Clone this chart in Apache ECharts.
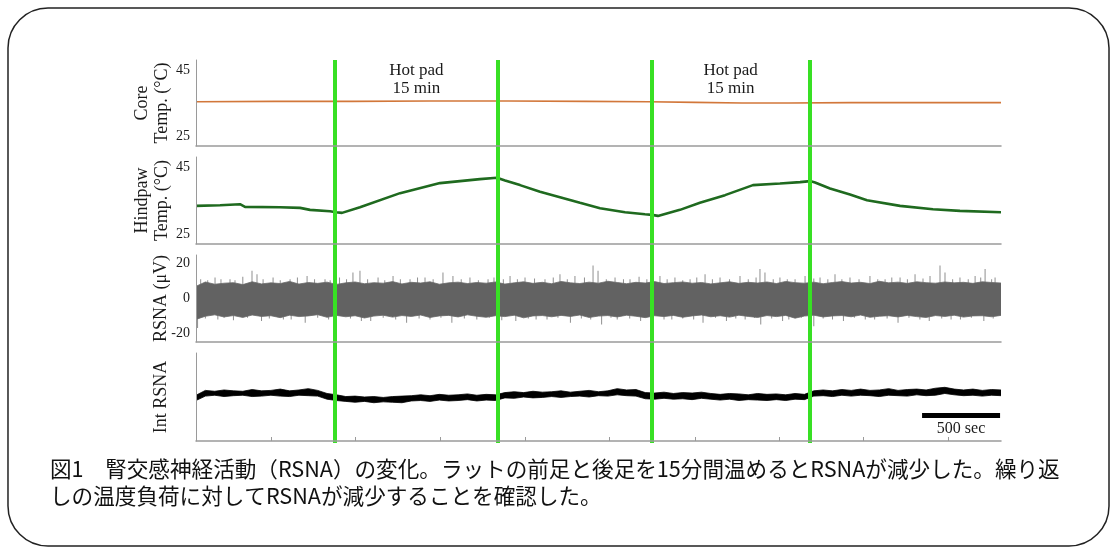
<!DOCTYPE html>
<html><head><meta charset="utf-8">
<script src="https://cdn.jsdelivr.net/npm/echarts@6/dist/echarts.min.js"></script>
<style>html,body{margin:0;padding:0;background:#fff}#c{width:1115px;height:548px}</style>
</head><body><div id="c"></div>
<script>
// ---- data (time in seconds) ----
const T_MAX = 5160;
const HEAT_ON = [890, 2920];
const HEAT_OFF = [1935, 3935];
const HEAT_LABEL = 'Hot pad\n15 min';
const SCALE_BAR = [4654, 5154];
const SCALE_LABEL = '500 sec';
const X_TICKS = [480, 1020, 1565, 2110, 2650, 3200, 3740, 4280, 4820];
const TEMP_TICKS = [25, 45];
const RSNA_TICKS = [-20, 0, 20];

const CORE_T = [0, 500, 1000, 1500, 2000, 2500, 2900, 3200, 3500, 3800, 4200, 4600, 5160];
const CORE_V = [35.4, 35.5, 35.5, 35.6, 35.6, 35.5, 35.4, 35.2, 35.0, 35.0, 35.1, 35.1, 35.1];

const HINDPAW_T = [0, 154, 282, 314, 538, 667, 731, 859, 897, 936, 1051, 1308, 1564, 1820, 1929, 1981, 2077, 2205, 2333, 2461, 2590, 2750, 2878, 2923, 2961, 3102, 3230, 3391, 3570, 3743, 3872, 3936, 3968, 4064, 4192, 4301, 4513, 4724, 4897, 5160];
const HINDPAW_V = [33.4, 33.6, 33.9, 33.1, 33.0, 32.8, 32.2, 31.8, 31.5, 31.3, 33.0, 37.2, 40.2, 41.4, 41.8, 41.0, 39.6, 37.6, 36.0, 34.3, 32.7, 31.5, 30.9, 30.7, 30.4, 32.2, 34.3, 36.6, 39.6, 40.1, 40.5, 40.8, 40.4, 38.6, 36.8, 35.1, 33.4, 32.4, 31.9, 31.5];

// RSNA envelope sampled every RSNA_STEP seconds (upper / lower edge of the dense band, µV)
const RSNA_STEP = 60;
const RSNA_HI = [7.0, 9.5, 8.2, 8.8, 9.1, 8.0, 9.6, 8.4, 9.0, 8.6, 9.8, 8.3, 9.2, 8.7, 9.4, 8.1, 9.0, 9.5, 8.5, 9.1,
 8.8, 9.7, 8.4, 9.3, 8.9, 9.6, 8.2, 9.0, 9.4, 8.6, 9.2, 8.8, 9.5, 8.3, 9.0, 9.6, 8.7, 9.3, 8.5, 9.8,
 9.0, 8.6, 9.4, 8.8, 9.9, 9.2, 8.5, 9.3, 8.9, 9.7, 8.6, 9.1, 9.5, 8.8, 9.2, 8.4, 9.0, 9.6, 8.7, 9.3,
 8.9, 9.5, 8.6, 9.8, 9.1, 8.8, 9.4, 8.5, 9.2, 9.7, 8.9, 9.3, 8.6, 9.9, 9.0, 9.4, 8.7, 9.6, 9.1, 8.8,
 9.5, 9.0, 9.3, 8.7, 9.6, 9.2, 8.9];
const RSNA_LO = [-12.0, -10.2, -9.4, -10.6, -9.8, -10.9, -9.5, -10.3, -9.9, -11.0, -9.6, -10.4, -10.0, -9.3, -10.8, -9.7, -10.5, -9.9, -11.2, -10.1,
 -9.6, -10.7, -9.8, -10.3, -9.5, -10.9, -10.0, -9.7, -10.6, -9.4, -10.2, -10.8, -9.9, -10.4, -9.6, -11.1, -10.0, -9.8, -10.5, -9.7,
 -10.3, -9.5, -10.9, -10.1, -9.8, -10.6, -9.6, -10.2, -11.0, -9.9, -10.4, -9.7, -10.8, -10.0, -9.5, -10.5, -9.9, -10.7, -9.6, -10.3,
 -10.9, -9.8, -10.4, -9.7, -11.3, -10.1, -9.6, -10.6, -10.0, -9.8, -10.5, -9.5, -10.8, -10.2, -9.9, -10.6, -9.7, -10.4, -10.9, -9.8,
 -10.3, -9.6, -10.7, -10.0, -9.9, -10.5, -9.7];
// single spikes sticking out of the band
const SPIKE_UP_T = [30, 75, 122, 160, 218, 250, 300, 359, 391, 430,
 494, 540, 603, 650, 712, 760, 827, 860, 920, 965,
 1006, 1051, 1100, 1167, 1210, 1263, 1310, 1372, 1420, 1468,
 1520, 1583, 1647, 1700, 1756, 1810, 1872, 1910, 1970, 2013,
 2060, 2109, 2170, 2237, 2290, 2333, 2380, 2429, 2490, 2545,
 2577, 2630, 2686, 2740, 2782, 2840, 2890, 2974, 3020, 3070,
 3120, 3167, 3210, 3263, 3310, 3359, 3420, 3487, 3540, 3590,
 3615, 3647, 3700, 3743, 3790, 3840, 3904, 3960, 4000, 4050,
 4096, 4140, 4192, 4250, 4320, 4370, 4417, 4460, 4513, 4560,
 4609, 4660, 4705, 4769, 4801, 4850, 4897, 4950, 4994, 5030,
 5058, 5100, 5122];
const SPIKE_UP_V = [11, 10.5, 12, 11, 11, 10.5, 12.5, 16, 14, 11,
 12, 10.5, 11, 12, 13, 11, 11, 10.5, 12, 11,
 15, 16, 11, 12, 10.5, 13, 11, 11, 12, 12,
 11, 15, 13, 11, 12, 10.5, 11, 12, 11, 13,
 11, 12, 11.5, 11, 12, 14, 11, 13, 12, 19,
 16, 11, 12, 11, 11, 12.5, 11, 13, 11, 12,
 10.5, 11, 12, 14, 11, 12, 11, 13, 11, 12,
 17, 15, 11, 12, 11, 11, 13, 11.5, 12, 11,
 14, 11, 12, 11, 13, 11, 11, 12, 12, 11,
 14, 11.5, 13, 19, 15, 11, 12, 11, 13, 12,
 17, 11, 12];
const SPIKE_DN_T = [10, 60, 140, 180, 240, 330, 420, 470, 560, 610,
 700, 780, 850, 900, 990, 1060, 1120, 1200, 1280, 1350,
 1430, 1500, 1570, 1640, 1720, 1800, 1880, 1960, 2050, 2130,
 2180, 2250, 2320, 2400, 2470, 2530, 2600, 2660, 2700, 2780,
 2850, 2930, 3000, 3050, 3120, 3190, 3250, 3330, 3400, 3460,
 3520, 3580, 3620, 3690, 3760, 3800, 3880, 3940, 3960, 4020,
 4080, 4150, 4220, 4290, 4350, 4430, 4500, 4570, 4640, 4700,
 4780, 4840, 4900, 4970, 5050, 5110];
const SPIKE_DN_V = [-17, -11.5, -12, -11, -12.5, -11, -13, -11.5, -12, -12,
 -14, -11, -12, -12, -11.5, -13, -13, -11, -12, -14,
 -11.5, -12, -11, -14, -11.5, -12, -11, -12.5, -13, -11.5,
 -12, -12, -11, -14, -11.5, -12, -15, -11, -12, -11.5,
 -13, -11, -12, -12, -11.5, -12, -14, -11, -13, -11.5,
 -12, -11, -15, -11.5, -13, -12, -11, -19, -16, -11.5,
 -12, -13, -11, -12, -12, -11.5, -14, -11, -12, -13,
 -11.5, -12, -12, -11, -13, -11.5];

// Integrated RSNA (arbitrary units, 0-100 panel): upper / lower edge of the noisy trace every INT_STEP seconds
const INT_STEP = 60;
const INT_HI = [52, 57.5, 56.5, 58, 57, 56.5, 58.5, 57, 57.5, 59,
 57, 58, 59.5, 57.5, 54, 52.5, 50.5, 51, 50, 50.5,
 49.5, 50.5, 51, 51.5, 52.5, 51.5, 53, 52, 52.5, 53.5,
 52, 53, 52.5, 55, 56, 55, 56.5, 55.5, 56, 57,
 55.5, 56.5, 57.5, 56, 57, 59.5, 58, 58.5, 55, 54.5,
 55.5, 54, 55, 54.5, 55.5, 54, 53, 54, 53.5, 52.5,
 54, 53, 53.5, 52.5, 54, 53, 57, 58, 57, 58.5,
 57.5, 59, 57.5, 58, 59.5, 57.5, 58.5, 59, 58, 60,
 61, 59, 58, 59, 57.5, 58.5, 58];
const INT_LO = [46, 51, 52, 50.5, 51.5, 52, 50.5, 51, 52, 51,
 50.5, 52, 51.5, 51, 47.5, 46, 45, 44, 45, 43.5,
 44.5, 44, 43.5, 45.5, 46, 45, 46.5, 45.5, 46, 47,
 45.5, 46.5, 46, 49, 48.5, 50, 49, 49.5, 50.5, 49.5,
 50.5, 51, 50, 51.5, 51, 52.5, 51.5, 51, 48, 47.5,
 48.5, 47.5, 48, 47, 48.5, 47.5, 46.5, 47.5, 46, 47,
 46.5, 46, 47, 46, 47.5, 47, 51, 51.5, 50.5, 52,
 51, 52, 51.5, 50.5, 52, 51.5, 51, 52.5, 51.5, 52,
 54, 52.5, 51.5, 52, 51, 52, 51.5];

const CAPTION_1 = '図1　腎交感神経活動（RSNA）の変化。ラットの前足と後足を15分間温めるとRSNAが減少した。繰り返';
const CAPTION_2 = 'しの温度負荷に対してRSNAが減少することを確認した。';

// ---- chart ----
const zip = (t, v) => t.map((x, i) => [x, v[i]]);
const stepped = (v, step) => v.map((y, i) => [i * step, y]);
const SERIF = '"Liberation Serif","DejaVu Serif",serif';
const AX = '#9a9a9a';
const L = 196, R = 114;
const grids = [
  {left: L, right: R, top: 60, height: 86},
  {left: L, right: R, top: 157, height: 87},
  {left: L, right: R, top: 255, height: 87},
  {left: L, right: R, top: 353, height: 88},
  {left: L, right: R, top: 60, height: 383}
];
function xAx(i, ticks) {
  return {gridIndex: i, type: 'value', min: 0, max: T_MAX, show: i < 4, z: 5,
    axisLine: {show: true, onZero: false, lineStyle: {color: AX, width: 1.5}},
    axisLabel: {show: false}, splitLine: {show: false},
    axisTick: ticks ? {show: true, inside: true, length: 4, customValues: X_TICKS, lineStyle: {color: AX}} : {show: false}};
}
function yAx(i, min, max, name, labels, gap) {
  return {gridIndex: i, type: 'value', min: min, max: max, show: i < 4, z: 5,
    name: name, nameLocation: 'middle', nameGap: gap, nameRotate: 90, nameMoveOverlap: false,
    nameTextStyle: {fontFamily: SERIF, fontSize: 18, lineHeight: 20, color: '#1a1a1a'},
    axisLine: {show: true, lineStyle: {color: AX, width: 1}},
    axisTick: {show: false}, splitLine: {show: false},
    axisLabel: labels ? {show: true, customValues: labels, fontFamily: SERIF, fontSize: 14, color: '#1a1a1a', margin: 6} : {show: false}};
}
const option = {
  animation: false,
  backgroundColor: '#fff',
  grid: grids,
  xAxis: [xAx(0), xAx(1), xAx(2), xAx(3, true), xAx(4)],
  yAxis: [
    yAx(0, 22, 48, 'Core\nTemp. (°C)', TEMP_TICKS, 24),
    yAx(1, 22, 48, 'Hindpaw\nTemp. (°C)', TEMP_TICKS, 24),
    yAx(2, -25, 25, 'RSNA (μV)', RSNA_TICKS, 25),
    yAx(3, 0, 100, 'Int RSNA', null, 25),
    yAx(4, 0, 1, '', null, 0)
  ],
  series: [
    {type: 'line', xAxisIndex: 0, yAxisIndex: 0, data: zip(CORE_T, CORE_V), symbol: 'none',
     lineStyle: {color: '#d2773a', width: 1.6}},
    {type: 'line', xAxisIndex: 1, yAxisIndex: 1, data: zip(HINDPAW_T, HINDPAW_V), symbol: 'none',
     lineStyle: {color: '#1f6a1f', width: 2.6}},
    {type: 'bar', xAxisIndex: 2, yAxisIndex: 2, data: zip(SPIKE_UP_T, SPIKE_UP_V), barWidth: 1,
     itemStyle: {color: '#8f8f8f'}, barGap: '-100%'},
    {type: 'bar', xAxisIndex: 2, yAxisIndex: 2, data: zip(SPIKE_DN_T, SPIKE_DN_V), barWidth: 1,
     itemStyle: {color: '#8f8f8f'}, barGap: '-100%'},
    {type: 'line', xAxisIndex: 2, yAxisIndex: 2, data: stepped(RSNA_HI, RSNA_STEP), symbol: 'none',
     lineStyle: {color: '#6a6a6a', width: 0.8}, areaStyle: {color: '#626262', opacity: 1, origin: -1.5}},
    {type: 'line', xAxisIndex: 2, yAxisIndex: 2, data: stepped(RSNA_LO, RSNA_STEP), symbol: 'none',
     lineStyle: {color: '#6a6a6a', width: 0.8}, areaStyle: {color: '#626262', opacity: 1, origin: 1.5}},
    // upper edge filled down to 38, then the lower edge masks everything beneath it down to 35
    {type: 'line', xAxisIndex: 3, yAxisIndex: 3, data: stepped(INT_HI, INT_STEP), symbol: 'none',
     lineStyle: {color: '#000', width: 0.8}, areaStyle: {color: '#000', opacity: 1, origin: 38}},
    {type: 'line', xAxisIndex: 3, yAxisIndex: 3, data: stepped(INT_LO, INT_STEP), symbol: 'none',
     lineStyle: {color: '#000', width: 0.8}, areaStyle: {color: '#fff', opacity: 1, origin: 35},
     markLine: {silent: true, symbol: 'none', animation: false,
       lineStyle: {color: '#000', width: 5, type: 'solid'},
       label: {show: true, position: 'insideMiddleBottom', distance: 6, formatter: SCALE_LABEL,
               fontFamily: SERIF, fontSize: 16, color: '#1a1a1a'},
       data: [[{coord: [SCALE_BAR[0], 29.5]}, {coord: [SCALE_BAR[1], 29.5]}]]}},
    {type: 'line', xAxisIndex: 4, yAxisIndex: 4, data: [], symbol: 'none', z: 6,
     markLine: {silent: true, symbol: 'none', animation: false,
       lineStyle: {color: '#38e024', width: 4, type: 'solid'}, label: {show: false},
       data: HEAT_ON.concat(HEAT_OFF).map(t => ({xAxis: t}))},
     markArea: {silent: true, itemStyle: {color: 'rgba(0,0,0,0)'},
       label: {show: true, position: 'insideTop', distance: 2, formatter: HEAT_LABEL,
               fontFamily: SERIF, fontSize: 17, lineHeight: 18, color: '#1a1a1a'},
       data: HEAT_ON.map((t, i) => [{xAxis: t}, {xAxis: HEAT_OFF[i]}])}}
  ],
  graphic: [
    {type: 'rect', shape: {x: 8, y: 8, width: 1101, height: 538, r: 40}, silent: true,
     style: {fill: 'none', stroke: '#222', lineWidth: 1.5}},
    {type: 'text', left: 50, top: 458, silent: true,
     style: {text: CAPTION_1, font: '21.6px "Noto Sans CJK JP"', fill: '#111'}},
    {type: 'text', left: 50, top: 485, silent: true,
     style: {text: CAPTION_2, font: '21.6px "Noto Sans CJK JP"', fill: '#111'}}
  ]
};
const chart = echarts.init(document.getElementById('c'), null, {renderer: 'canvas'});
chart.setOption(option);
</script>
</body></html>
